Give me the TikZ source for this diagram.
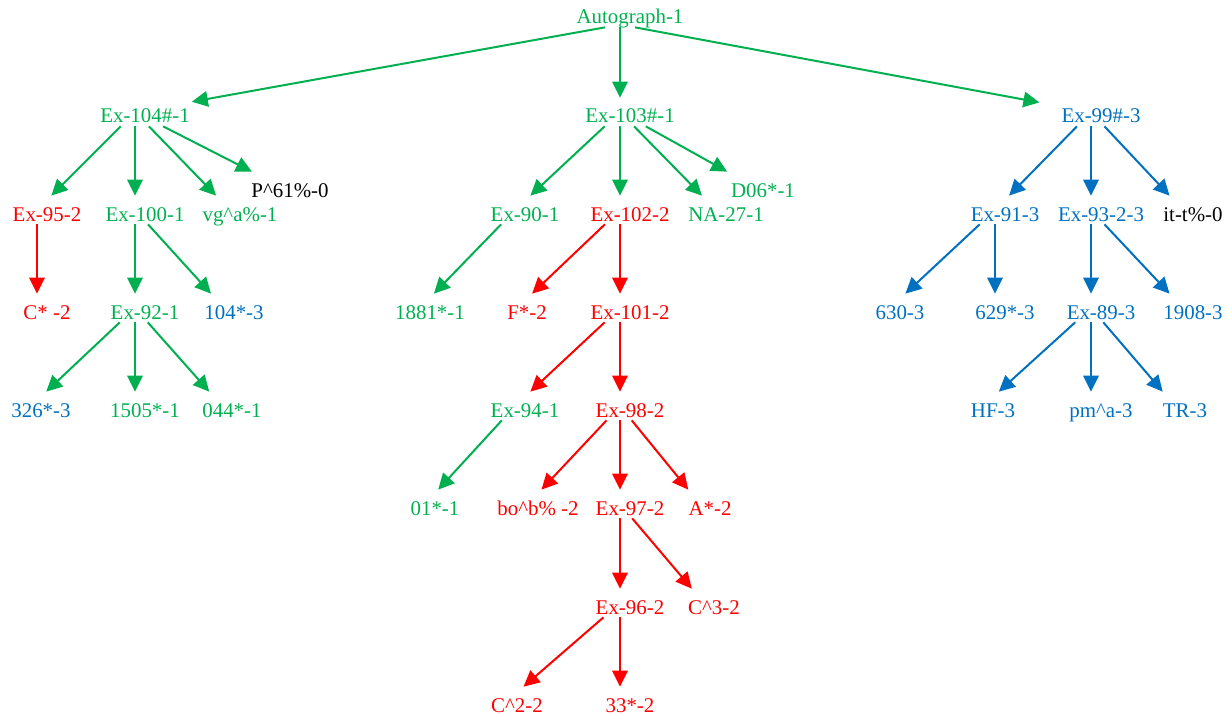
\documentclass[tikz,border=0pt]{standalone}
\usepackage{fontspec}
\setmainfont{Liberation Serif}
\usepackage{tikz}
\usetikzlibrary{arrows.meta}

\definecolor{exgreen}{RGB}{0,176,80}
\definecolor{exred}{RGB}{255,0,0}
\definecolor{exblue}{RGB}{0,112,192}

\begin{document}
\begin{tikzpicture}[
  x=0.2mm, y=-0.2mm,
  lbl/.style = {anchor=base, inner xsep=1pt, inner ysep=0pt, text height=5mm, text depth=0.6mm,
                font=\fontsize{11.9}{14}\selectfont, execute at begin node={\hspace*{4mm}}},
  gn/.style = {lbl, text=exgreen},
  rn/.style = {lbl, text=exred},
  bn/.style = {lbl, text=exblue},
  kn/.style = {lbl, text=black},
  garrow/.style = {exgreen, line width=0.4mm, -{Triangle[length=3.2mm, width=3.1mm]}},
  rarrow/.style = {exred, line width=0.4mm, -{Triangle[length=3.2mm, width=3.1mm]}},
  barrow/.style = {exblue, line width=0.4mm, -{Triangle[length=3.2mm, width=3.1mm]}}
]
  \useasboundingbox (0,0) rectangle (1227,714);

  % Root
  \node[gn] (a1) at (620,24) {Autograph-1};

  % Left subtree
  \node[gn] (e104) at (135,123) {Ex-104\#-1};
  \node[rn] (e95)  at (37,221)  {Ex-95-2};
  \node[gn] (e100) at (135,221) {Ex-100-1};
  \node[gn] (vg)   at (230,221) {vg\textasciicircum a\%-1};
  \node[kn] (p61)  at (280,197) {P\textasciicircum 61\%-0};
  \node[rn] (cst)  at (37,319)  {C* -2};
  \node[gn] (e92)  at (135,319) {Ex-92-1};
  \node[bn] (n104) at (224,319) {104*-3};
  \node[bn] (n326) at (31,417)  {326*-3};
  \node[gn] (n1505) at (135,417) {1505*-1};
  \node[gn] (n044) at (222,417) {044*-1};

  % Middle subtree
  \node[gn] (e103) at (620,123) {Ex-103\#-1};
  \node[gn] (e90)  at (515,221) {Ex-90-1};
  \node[rn] (e102) at (620,221) {Ex-102-2};
  \node[gn] (na27) at (716,221) {NA-27-1};
  \node[gn] (d06)  at (753,197) {D06*-1};
  \node[gn] (n1881) at (420,319) {1881*-1};
  \node[rn] (fst)  at (517,319) {F*-2};
  \node[rn] (e101) at (620,319) {Ex-101-2};
  \node[gn] (e94)  at (515,417) {Ex-94-1};
  \node[rn] (e98)  at (620,417) {Ex-98-2};
  \node[gn] (n01)  at (425,515) {01*-1};
  \node[rn] (bo)   at (528,515) {bo\textasciicircum b\% -2};
  \node[rn] (e97)  at (620,515) {Ex-97-2};
  \node[rn] (ast)  at (700,515) {A*-2};
  \node[rn] (e96)  at (620,614) {Ex-96-2};
  \node[rn] (c3)   at (704,614) {C\textasciicircum 3-2};
  \node[rn] (c2)   at (507,712) {C\textasciicircum 2-2};
  \node[rn] (n33)  at (620,712) {33*-2};

  % Right subtree
  \node[bn] (e99)  at (1091,123) {Ex-99\#-3};
  \node[bn] (e91)  at (995,221)  {Ex-91-3};
  \node[bn] (e93)  at (1091,221) {Ex-93-2-3};
  \node[kn] (itt)  at (1183,221) {it-t\%-0};
  \node[bn] (n630) at (890,319)  {630-3};
  \node[bn] (n629) at (995,319)  {629*-3};
  \node[bn] (e89)  at (1091,319) {Ex-89-3};
  \node[bn] (n1908) at (1183,319) {1908-3};
  \node[bn] (hf)   at (983,417)  {HF-3};
  \node[bn] (pm)   at (1091,417) {pm\textasciicircum a-3};
  \node[bn] (tr)   at (1175,417) {TR-3};

  % Edges from the root
  \draw[garrow] ([xshift=-3mm]a1.south) -- (e104);
  \draw[garrow] (a1) -- (e103);
  \draw[garrow] ([xshift=3mm]a1.south) -- (e99);

  % Left edges
  \draw[garrow] (e104) -- (e95);
  \draw[garrow] (e104) -- (e100);
  \draw[garrow] (e104) -- (vg);
  \draw[garrow] (e104) -- (p61);
  \draw[rarrow] (e95) -- (cst);
  \draw[garrow] (e100) -- (e92);
  \draw[garrow] (e100) -- (n104);
  \draw[garrow] (e92) -- (n326);
  \draw[garrow] (e92) -- (n1505);
  \draw[garrow] (e92) -- (n044);

  % Middle edges
  \draw[garrow] (e103) -- (e90);
  \draw[garrow] (e103) -- (e102);
  \draw[garrow] (e103) -- (na27);
  \draw[garrow] (e103) -- (d06);
  \draw[garrow] (e90) -- (n1881);
  \draw[rarrow] (e102) -- (fst);
  \draw[rarrow] (e102) -- (e101);
  \draw[rarrow] (e101) -- (e94);
  \draw[rarrow] (e101) -- (e98);
  \draw[garrow] (e94) -- (n01);
  \draw[rarrow] (e98) -- (bo);
  \draw[rarrow] (e98) -- (e97);
  \draw[rarrow] (e98) -- (ast);
  \draw[rarrow] (e97) -- (e96);
  \draw[rarrow] (e97) -- (c3);
  \draw[rarrow] (e96) -- (c2);
  \draw[rarrow] (e96) -- (n33);

  % Right edges
  \draw[barrow] (e99) -- (e91);
  \draw[barrow] (e99) -- (e93);
  \draw[barrow] (e99) -- (itt);
  \draw[barrow] (e91) -- (n630);
  \draw[barrow] (e91) -- (n629);
  \draw[barrow] (e93) -- (e89);
  \draw[barrow] (e93) -- (n1908);
  \draw[barrow] (e89) -- (hf);
  \draw[barrow] (e89) -- (pm);
  \draw[barrow] (e89) -- (tr);

\end{tikzpicture}
\end{document}
